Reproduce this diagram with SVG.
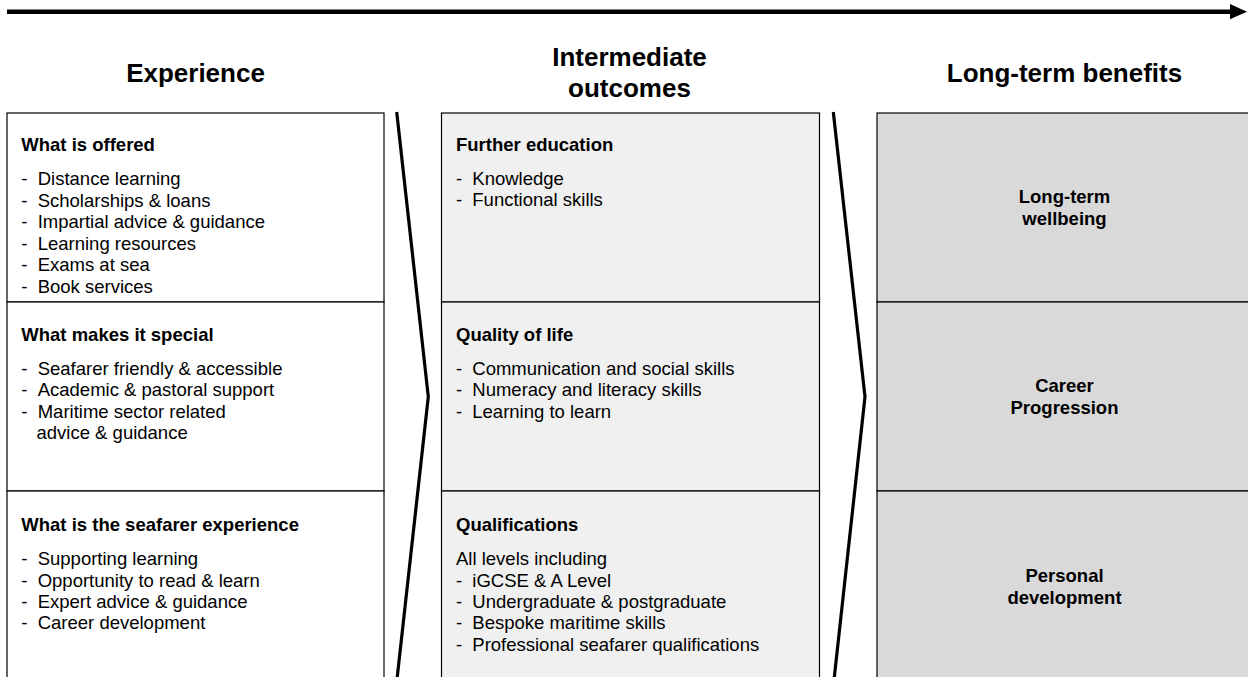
<svg xmlns="http://www.w3.org/2000/svg" width="1248" height="677" viewBox="0 0 1248 677">
<style>
  text { font-family: "Liberation Sans", Arial, sans-serif; fill: #000; }
  .h { font-size: 26px; font-weight: bold; text-anchor: middle; }
  .t { font-size: 18.5px; font-weight: bold; }
  .b { font-size: 18.5px; }
  .c { font-size: 18.5px; font-weight: bold; text-anchor: middle; }
  .box1 { fill: #ffffff; stroke: #000; stroke-width: 1.2; }
  .box2 { fill: #f0f0f0; stroke: #000; stroke-width: 1.2; }
  .box3 { fill: #d9d9d9; stroke: #000; stroke-width: 1.2; }
  .chev { fill: none; stroke: #000; stroke-width: 3.2; stroke-linejoin: miter; }
</style>
<rect width="1248" height="677" fill="#fff"/>

<g id="connectors">
  <line x1="7" y1="11.7" x2="1232" y2="11.7" stroke="#000" stroke-width="4.5"/>
  <polygon points="1230,4 1247,11.7 1230,19.2" fill="#000"/>
  <polyline class="chev" points="396.7,112 428.3,396.7 396.7,682"/>
  <polyline class="chev" points="833.3,112 865,396.7 833.8,682"/>
</g>

<g id="headers">
  <text class="h" x="195.5" y="81.7">Experience</text>
  <text class="h" x="629.5" y="66">Intermediate</text>
  <text class="h" x="629.5" y="96.7">outcomes</text>
  <text class="h" x="1064.5" y="81.7">Long-term benefits</text>
</g>

<g id="exp-offered">
  <rect class="box1" x="7" y="113" width="377" height="189"/>
  <text class="t" x="21.3" y="151">What is offered</text>
  <text class="b" y="185"><tspan x="21.3">-</tspan><tspan x="37.7">Distance learning</tspan></text>
  <text class="b" y="206.5"><tspan x="21.3">-</tspan><tspan x="37.7">Scholarships &amp; loans</tspan></text>
  <text class="b" y="228"><tspan x="21.3">-</tspan><tspan x="37.7">Impartial advice &amp; guidance</tspan></text>
  <text class="b" y="249.5"><tspan x="21.3">-</tspan><tspan x="37.7">Learning resources</tspan></text>
  <text class="b" y="271"><tspan x="21.3">-</tspan><tspan x="37.7">Exams at sea</tspan></text>
  <text class="b" y="292.5"><tspan x="21.3">-</tspan><tspan x="37.7">Book services</tspan></text>
</g>

<g id="exp-special">
  <rect class="box1" x="7" y="302" width="377" height="189"/>
  <text class="t" x="21.3" y="340.7">What makes it special</text>
  <text class="b" y="375"><tspan x="21.3">-</tspan><tspan x="37.7">Seafarer friendly &amp; accessible</tspan></text>
  <text class="b" y="396.3"><tspan x="21.3">-</tspan><tspan x="37.7">Academic &amp; pastoral support</tspan></text>
  <text class="b" y="417.7"><tspan x="21.3">-</tspan><tspan x="37.7">Maritime sector related</tspan></text>
  <text class="b" x="36.5" y="439">advice &amp; guidance</text>
</g>

<g id="exp-seafarer">
  <rect class="box1" x="7" y="491" width="377" height="195"/>
  <text class="t" x="21.3" y="530.7">What is the seafarer experience</text>
  <text class="b" y="565.3"><tspan x="21.3">-</tspan><tspan x="37.7">Supporting learning</tspan></text>
  <text class="b" y="586.6"><tspan x="21.3">-</tspan><tspan x="37.7">Opportunity to read &amp; learn</tspan></text>
  <text class="b" y="607.9"><tspan x="21.3">-</tspan><tspan x="37.7">Expert advice &amp; guidance</tspan></text>
  <text class="b" y="629.2"><tspan x="21.3">-</tspan><tspan x="37.7">Career development</tspan></text>
</g>

<g id="out-education">
  <rect class="box2" x="441.5" y="113" width="378" height="189"/>
  <text class="t" x="456" y="151">Further education</text>
  <text class="b" y="184.5"><tspan x="456">-</tspan><tspan x="472.3">Knowledge</tspan></text>
  <text class="b" y="205.8"><tspan x="456">-</tspan><tspan x="472.3">Functional skills</tspan></text>
</g>

<g id="out-quality">
  <rect class="box2" x="441.5" y="302" width="378" height="189"/>
  <text class="t" x="456" y="340.7">Quality of life</text>
  <text class="b" y="375"><tspan x="456">-</tspan><tspan x="472.3">Communication and social skills</tspan></text>
  <text class="b" y="396.3"><tspan x="456">-</tspan><tspan x="472.3">Numeracy and literacy skills</tspan></text>
  <text class="b" y="417.7"><tspan x="456">-</tspan><tspan x="472.3">Learning to learn</tspan></text>
</g>

<g id="out-qualifications">
  <rect class="box2" x="441.5" y="491" width="378" height="195"/>
  <text class="t" x="456" y="530.7">Qualifications</text>
  <text class="b" x="456" y="565.3">All levels including</text>
  <text class="b" y="586.6"><tspan x="456">-</tspan><tspan x="472.3">iGCSE &amp; A Level</tspan></text>
  <text class="b" y="607.9"><tspan x="456">-</tspan><tspan x="472.3">Undergraduate &amp; postgraduate</tspan></text>
  <text class="b" y="629.2"><tspan x="456">-</tspan><tspan x="472.3">Bespoke maritime skills</tspan></text>
  <text class="b" y="650.5"><tspan x="456">-</tspan><tspan x="472.3">Professional seafarer qualifications</tspan></text>
</g>

<g id="ben-wellbeing">
  <rect class="box3" x="877" y="113" width="380" height="189"/>
  <text class="c" x="1064.5" y="203.3">Long-term</text>
  <text class="c" x="1064.5" y="224.5">wellbeing</text>
</g>

<g id="ben-career">
  <rect class="box3" x="877" y="302" width="380" height="189"/>
  <text class="c" x="1064.5" y="391.7">Career</text>
  <text class="c" x="1064.5" y="413.5">Progression</text>
</g>

<g id="ben-personal">
  <rect class="box3" x="877" y="491" width="380" height="195"/>
  <text class="c" x="1064.5" y="582.3">Personal</text>
  <text class="c" x="1064.5" y="604">development</text>
</g>
</svg>
